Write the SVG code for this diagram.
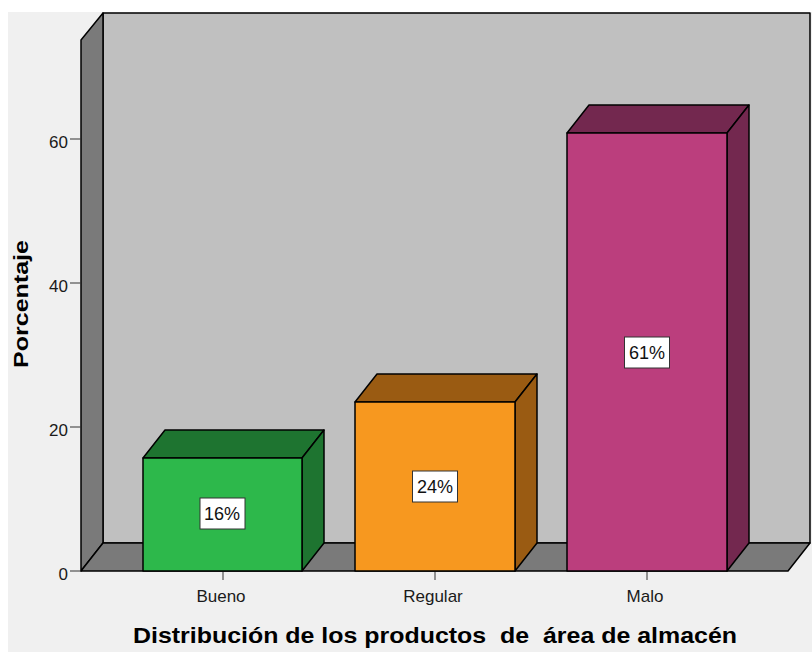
<svg xmlns="http://www.w3.org/2000/svg" width="812" height="652" viewBox="0 0 812 652">
<style>
.ln{stroke:#000;stroke-width:1.5;stroke-linejoin:round}
.tk{font-family:"Liberation Sans",Arial,sans-serif;font-size:17px;fill:#1a1a1a}
.lb{font-family:"Liberation Sans",Arial,sans-serif;font-size:18px;fill:#111;text-anchor:middle}
.box{fill:#fff;stroke:#333;stroke-width:1}
</style>
<rect x="0" y="0" width="812" height="652" fill="#fff"/>
<rect x="8" y="12" width="804" height="640" fill="#f0f0f0"/>
<g id="frame">
<rect x="103" y="13" width="707" height="530" fill="#c0c0c0" class="ln"/>
<polygon points="81,40 103,13 103,543 81,571" fill="#7a7a7a" class="ln"/>
<polygon points="81,571 103,543 810,543 788,571" fill="#7a7a7a" class="ln"/>
</g>
<g id="axis">
<line x1="70" y1="571" x2="81" y2="571" stroke="#333"/>
<line x1="70" y1="427" x2="81" y2="427" stroke="#333"/>
<line x1="70" y1="283" x2="81" y2="283" stroke="#333"/>
<line x1="70" y1="139" x2="81" y2="139" stroke="#333"/>
<text class="tk" x="68" y="580" text-anchor="end">0</text>
<text class="tk" x="68" y="436" text-anchor="end">20</text>
<text class="tk" x="68" y="292" text-anchor="end">40</text>
<text class="tk" x="68" y="148" text-anchor="end">60</text>
<line x1="223" y1="571" x2="223" y2="580" stroke="#333"/>
<line x1="435" y1="571" x2="435" y2="580" stroke="#333"/>
<line x1="647" y1="571" x2="647" y2="580" stroke="#333"/>
<text class="tk" x="221" y="602" text-anchor="middle">Bueno</text>
<text class="tk" x="433" y="602" text-anchor="middle">Regular</text>
<text class="tk" x="645" y="602" text-anchor="middle">Malo</text>
<text x="28" y="304" transform="rotate(-90 28 304)" text-anchor="middle" font-family="'Liberation Sans',Arial,sans-serif" font-size="20" font-weight="bold" fill="#000" textLength="128" lengthAdjust="spacingAndGlyphs">Porcentaje</text>
<text x="435" y="643" text-anchor="middle" xml:space="preserve" font-family="'Liberation Sans',Arial,sans-serif" font-size="22" font-weight="bold" fill="#000" textLength="604" lengthAdjust="spacingAndGlyphs">Distribución de los productos  de  área de almacén</text>
</g>
<g id="bar-bueno">
<polygon points="143,458 165,430 324,430 302,458" fill="#1e7430" class="ln"/>
<polygon points="302,458 324,430 324,543 302,571" fill="#1e7430" class="ln"/>
<rect x="143" y="458" width="159" height="113" fill="#2db84b" class="ln"/>
<rect x="200" y="498" width="45" height="31" class="box"/>
<text class="lb" x="222" y="520">16%</text>
</g>
<g id="bar-regular">
<polygon points="355,402 377,374 537,374 515,402" fill="#9a5b12" class="ln"/>
<polygon points="515,402 537,374 537,543 515,571" fill="#9a5b12" class="ln"/>
<rect x="355" y="402" width="160" height="169" fill="#f7981f" class="ln"/>
<rect x="412.5" y="471" width="45" height="31" class="box"/>
<text class="lb" x="435" y="493">24%</text>
</g>
<g id="bar-malo">
<polygon points="567,133 589,105 749,105 727,133" fill="#73284f" class="ln"/>
<polygon points="727,133 749,105 749,543 727,571" fill="#73284f" class="ln"/>
<rect x="567" y="133" width="160" height="438" fill="#bb3e7d" class="ln"/>
<rect x="624.5" y="337" width="45" height="31" class="box"/>
<text class="lb" x="647" y="359">61%</text>
</g>
</svg>
